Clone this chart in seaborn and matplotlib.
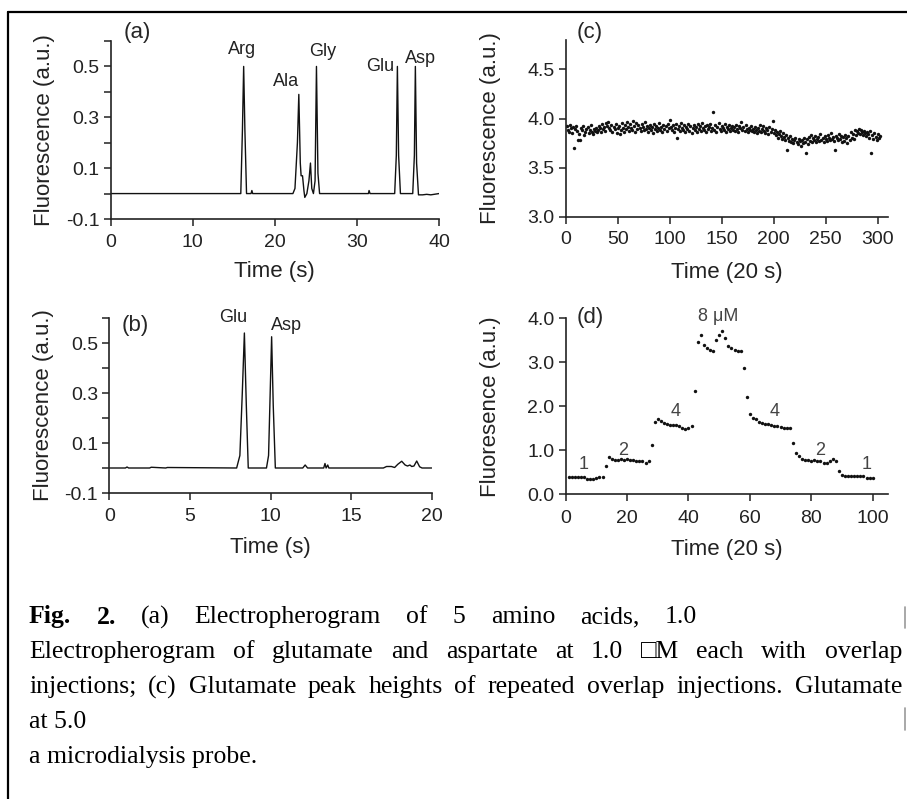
"""
Four-panel figure: electropherograms (a, b) and glutamate peak heights (c, d),
with the figure caption underneath.
"""

import matplotlib.pyplot as plt
import numpy as np
import seaborn as sns
from matplotlib.lines import Line2D

sns.set_theme(style="ticks")
plt.rcParams["font.family"] = ["Liberation Sans", "DejaVu Sans"]
plt.rcParams["axes.unicode_minus"] = False

# --- (a) electropherogram of 5 amino acids: trace vertices
time_a = [0, 15.85, 16.05, 16.2, 16.35, 16.55, 17.1, 17.2, 17.3,
          22.2, 22.45, 22.6, 22.75, 22.92, 23.1, 23.2, 23.37, 23.55, 23.65,
          23.9, 24.15, 24.34, 24.5, 24.7, 24.9, 25.07, 25.25, 25.45,
          31.4, 31.48, 31.6, 34.6, 34.8, 34.93, 35.08, 35.3,
          36.8, 37.0, 37.12, 37.27, 37.5, 38.0, 38.5, 39.0, 40]
fluo_a = [0, 0, 0.25, 0.50, 0.25, 0, 0, 0.012, 0,
          0, 0.02, 0.11, 0.20, 0.39, 0.12, 0.07, 0.07, 0.01, -0.015,
          0.0, 0.05, 0.12, 0.02, 0.0, 0.05, 0.50, 0.08, 0,
          0, 0.012, 0, 0, 0.15, 0.50, 0.15, 0,
          0, 0.15, 0.50, 0.12, -0.005, -0.005, -0.003, -0.005, 0]
peaks_a = ["Arg", "Ala", "Gly", "Glu", "Asp"]
peak_x_a = [16.0, 21.4, 25.8, 32.8, 37.7]
peak_y_a = [0.565, 0.44, 0.56, 0.50, 0.53]

# --- (b) glutamate and aspartate, overlap injection
time_b = [0, 1.0, 1.1, 1.2, 2.5, 2.6, 3.5, 3.6, 7.9, 8.1, 8.25, 8.38,
          8.5, 8.62, 9.75, 9.88, 9.98, 10.07, 10.17, 10.3, 12.0, 12.15,
          12.3, 13.3, 13.38, 13.45, 13.55, 13.62, 13.7, 17.0, 17.2, 17.5,
          17.7, 17.9, 18.14, 18.35, 18.5, 18.65, 18.76, 18.9, 19.07,
          19.25, 19.4, 20]
fluo_b = [0, 0, 0.004, 0, 0, 0.003, 0, 0.002, 0, 0.05, 0.30, 0.54,
          0.25, 0, 0, 0.05, 0.30, 0.525, 0.25, 0, 0, 0.012,
          0, 0, 0.018, 0, 0.012, 0, 0, 0, 0.006, 0.006,
          0.002, 0.015, 0.027, 0.012, 0.008, 0.012, 0.006, 0.008, 0.028,
          0.005, 0, 0]
peaks_b = ["Glu", "Asp"]
peak_x_b = [7.7, 11.0]
peak_y_b = [0.60, 0.57]

# --- (c) glutamate peak heights of repeated overlap injections
height_c = [
    3.92, 3.88, 3.86, 3.93, 3.90, 3.85, 3.91, 3.70, 3.89, 3.92,
    3.87, 3.78, 3.84, 3.78, 3.90, 3.88, 3.92, 3.83, 3.86, 3.89,
    3.91, 3.85, 3.88, 3.93, 3.86, 3.84, 3.89, 3.87, 3.90, 3.86,
    3.88, 3.92, 3.90, 3.86, 3.94, 3.89, 3.91, 3.87, 3.95, 3.92,
    3.96, 3.90, 3.88, 3.93, 3.86, 3.91, 3.89, 3.94, 3.85, 3.90,
    3.92, 3.84, 3.88, 3.95, 3.90, 3.86, 3.93, 3.89, 3.96, 3.91,
    3.87, 3.94, 3.90, 3.88, 3.97, 3.92, 3.86, 3.95, 3.89, 3.93,
    3.90, 3.87, 3.94, 3.91, 3.88, 3.96, 3.89, 3.92, 3.86, 3.90,
    3.93, 3.88, 3.91, 3.85, 3.94, 3.89, 3.92, 3.87, 3.90, 3.95,
    3.88, 3.91, 3.86, 3.93, 3.89, 3.92, 3.87, 3.94, 3.90, 3.98,
    3.91, 3.88, 3.93, 3.86, 3.90, 3.94, 3.80, 3.89, 3.92, 3.87,
    3.95, 3.90, 3.88, 3.93, 3.86, 3.91, 3.89, 3.94, 3.87, 3.92,
    3.85, 3.90, 3.93, 3.88, 3.91, 3.86, 3.94, 3.89, 3.92, 3.87,
    3.95, 3.90, 3.88, 3.92, 3.86, 3.93, 3.89, 3.91, 3.94, 3.87,
    3.90, 4.07, 3.88, 3.93, 3.86, 3.91, 3.95, 3.89, 3.87, 3.92,
    3.90, 3.88, 3.94, 3.86, 3.91, 3.89, 3.93, 3.87, 3.90, 3.92,
    3.88, 3.91, 3.87, 3.93, 3.89, 3.86, 3.92, 3.90, 3.96, 3.88,
    3.91, 3.87, 3.93, 3.89, 3.86, 3.90, 3.88, 3.92, 3.87, 3.89,
    3.86, 3.91, 3.88, 3.85, 3.90, 3.87, 3.93, 3.86, 3.89, 3.92,
    3.87, 3.85, 3.90, 3.88, 3.84, 3.91, 3.86, 3.89, 3.97, 3.85,
    3.88, 3.83, 3.86, 3.80, 3.84, 3.87, 3.82, 3.79, 3.85, 3.81,
    3.78, 3.83, 3.68, 3.80, 3.77, 3.82, 3.76, 3.79, 3.75, 3.78,
    3.80, 3.76, 3.74, 3.79, 3.77, 3.72, 3.78, 3.75, 3.80, 3.76,
    3.65, 3.79, 3.74, 3.81, 3.77, 3.83, 3.76, 3.80, 3.78, 3.82,
    3.76, 3.79, 3.81, 3.77, 3.84, 3.78, 3.80, 3.76, 3.82, 3.79,
    3.77, 3.83, 3.80, 3.78, 3.85, 3.79, 3.81, 3.77, 3.68, 3.82,
    3.80, 3.78, 3.84, 3.79, 3.82, 3.76, 3.81, 3.77, 3.83, 3.80,
    3.75, 3.82, 3.78, 3.86, 3.80, 3.84, 3.79, 3.88, 3.83, 3.87,
    3.85, 3.89, 3.84, 3.88, 3.86, 3.83, 3.87, 3.85, 3.82, 3.86,
    3.84, 3.80, 3.87, 3.65, 3.83, 3.79, 3.85, 3.81, 3.78, 3.84,
    3.80, 3.82,
]
run_c = np.arange(1, len(height_c) + 1)

# --- (d) step changes of glutamate concentration (1-2-4-8-4-2-1 uM)
height_d = [
    0.40, 0.40, 0.40, 0.40, 0.40, 0.40, 0.35, 0.34, 0.34, 0.36,
    0.40, 0.40, 0.64, 0.84, 0.80, 0.79, 0.79, 0.80, 0.78, 0.80,
    0.77, 0.78, 0.76, 0.75, 0.76, 0.70, 0.76, 1.12, 1.64, 1.72,
    1.66, 1.62, 1.60, 1.58, 1.57, 1.58, 1.56, 1.50, 1.48, 1.50,
    1.55, 2.35, 3.46, 3.62, 3.40, 3.32, 3.28, 3.26, 3.50, 3.62,
    3.70, 3.56, 3.36, 3.32, 3.28, 3.26, 3.25, 2.86, 2.20, 1.82,
    1.74, 1.70, 1.64, 1.62, 1.60, 1.59, 1.57, 1.55, 1.56, 1.52,
    1.50, 1.50, 1.50, 1.16, 0.94, 0.86, 0.80, 0.78, 0.77, 0.76,
    0.77, 0.76, 0.75, 0.72, 0.70, 0.76, 0.80, 0.75, 0.54, 0.44,
    0.41, 0.41, 0.41, 0.41, 0.41, 0.41, 0.41, 0.37, 0.36, 0.36,
]
run_d = np.arange(1, len(height_d) + 1)
conc_labels = ["1", "2", "4", "8 \u03bcM", "4", "2", "1"]
conc_x = [5.8, 18.8, 35.9, 49.7, 68.2, 82.8, 98.0]
conc_y = [0.67, 1.00, 1.88, 4.04, 1.88, 1.00, 0.67]

caption = [
    ["Fig.", "2.", "(a)", "Electropherogram", "of", "5", "amino", "acids,", "1.0"],
    ["Electropherogram", "of", "glutamate", "and", "aspartate", "at", "1.0",
     "\u25a1M", "each", "with", "overlap"],
    ["injections;", "(c)", "Glutamate", "peak", "heights", "of", "repeated",
     "overlap", "injections.", "Glutamate"],
    ["at 5.0"],
    ["a microdialysis probe."],
]

W, H = 907, 799
fig = plt.figure(figsize=(W / 100, H / 100), dpi=100)
fig.patch.set_facecolor("white")


def px_axes(left, top, right, bottom):
    return fig.add_axes([left / W, 1 - bottom / H, (right - left) / W, (bottom - top) / H])


def style(ax):
    sns.despine(ax=ax)
    for s in ("left", "bottom"):
        ax.spines[s].set_linewidth(1.2)
        ax.spines[s].set_color("#222222")
    ax.tick_params(which="both", direction="out", length=5, width=1.1,
                   color="#222222", labelcolor="#222222", labelsize=14)
    ax.tick_params(axis="x", pad=6)
    ax.tick_params(axis="y", pad=3)
    ax.set_facecolor("white")


ink = "#111111"
lab = dict(fontsize=16, color="#222222")

# (a)
ax = px_axes(110.7, 41, 439, 219)
sns.lineplot(x=time_a, y=fluo_a, ax=ax, color=ink, lw=1.0, sort=False, estimator=None)
ax.set_xlim(0, 40)
ax.set_ylim(-0.1, 0.6)
ax.set_xticks([0, 10, 20, 30, 40])
ax.set_yticks([-0.1, 0.1, 0.3, 0.5])
ax.set_yticklabels(["-0.1", "0.1", "0.3", "0.5"])
ax.set_yticks([0.0, 0.2, 0.4, 0.6], minor=True)
style(ax)
ax.set_xlabel("Time (s)", **lab)
ax.set_ylabel("Fluorescence (a.u.)", **lab)
ax.xaxis.set_label_coords(0.5, -0.235)
ax.yaxis.set_label_coords(-0.17, 0.5)
for name, x, y in zip(peaks_a, peak_x_a, peak_y_a):
    ax.text(x, y, name, ha="center", va="center", fontsize=13, color="#222222")
ax.text(0.08, 1.045, "(a)", transform=ax.transAxes, ha="center", va="center", fontsize=16)

# (b)
ax = px_axes(109.3, 318, 431.7, 493)
sns.lineplot(x=time_b, y=fluo_b, ax=ax, color=ink, lw=1.0, sort=False, estimator=None)
ax.set_xlim(0, 20)
ax.set_ylim(-0.1, 0.6)
ax.set_xticks([0, 5, 10, 15, 20])
ax.set_yticks([-0.1, 0.1, 0.3, 0.5])
ax.set_yticklabels(["-0.1", "0.1", "0.3", "0.5"])
ax.set_yticks([0.0, 0.2, 0.4, 0.6], minor=True)
style(ax)
ax.set_xlabel("Time (s)", **lab)
ax.set_ylabel("Fluorescence (a.u.)", **lab)
ax.xaxis.set_label_coords(0.5, -0.25)
ax.yaxis.set_label_coords(-0.17, 0.5)
for name, x, y in zip(peaks_b, peak_x_b, peak_y_b):
    ax.text(x, y, name, ha="center", va="center", fontsize=13, color="#222222")
ax.text(0.08, 0.96, "(b)", transform=ax.transAxes, ha="center", va="center", fontsize=16)

# (c)
ax = px_axes(565.7, 40, 888, 216.7)
sns.scatterplot(x=run_c, y=height_c, ax=ax, color=ink, s=6, linewidth=0)
ax.set_xlim(0, 310)
ax.set_ylim(3.0, 4.8)
ax.set_xticks([0, 50, 100, 150, 200, 250, 300])
ax.set_yticks([3.0, 3.5, 4.0, 4.5])
ax.set_yticklabels(["3.0", "3.5", "4.0", "4.5"])
style(ax)
ax.tick_params(axis="x", pad=5)
ax.set_xlabel("Time (20 s)", **lab)
ax.set_ylabel("Fluorescence (a.u.)", **lab)
ax.xaxis.set_label_coords(0.5, -0.255)
ax.yaxis.set_label_coords(-0.2, 0.5)
ax.text(0.075, 1.04, "(c)", transform=ax.transAxes, ha="center", va="center", fontsize=16)

# (d)
ax = px_axes(565.7, 318.3, 888, 494.3)
sns.scatterplot(x=run_d, y=height_d, ax=ax, color=ink, s=6, linewidth=0)
ax.set_xlim(0, 105)
ax.set_ylim(0, 4.0)
ax.set_xticks([0, 20, 40, 60, 80, 100])
ax.set_yticks([0, 1, 2, 3, 4])
ax.set_yticklabels(["0.0", "1.0", "2.0", "3.0", "4.0"])
style(ax)
ax.set_xlabel("Time (20 s)", **lab)
ax.set_ylabel("Fluoresence (a.u.)", **lab)
ax.xaxis.set_label_coords(0.5, -0.255)
ax.yaxis.set_label_coords(-0.2, 0.5)
for name, x, y in zip(conc_labels, conc_x, conc_y):
    ax.text(x, y, name, ha="center", va="center", fontsize=13, color="#444444")
ax.text(0.075, 1.007, "(d)", transform=ax.transAxes, ha="center", va="center", fontsize=16)

# caption, justified like the page it came from
serif = ["Liberation Serif", "DejaVu Serif"]
renderer = fig.canvas.get_renderer()


def caption_line(words, y, x0=29, x1=None):
    texts = []
    for i, w in enumerate(words):
        bold = i < 2 and words[0] == "Fig."
        texts.append(fig.text(x0 / W, 1 - y / H, w, family=serif, fontsize=18.5,
                              fontweight="bold" if bold else "normal",
                              ha="left", va="center", color="black"))
    if x1 is None or len(texts) == 1:
        return
    widths = [t.get_window_extent(renderer).width for t in texts]
    gap = (x1 - x0 - sum(widths)) / (len(texts) - 1)
    x = x0
    for t, w in zip(texts, widths):
        t.set_x(x / W)
        x += w + gap


caption_line(caption[0], 617, x1=697)
caption_line(caption[1], 652, x1=902)
caption_line(caption[2], 687, x1=902)
caption_line(caption[3], 722)
caption_line(caption[4], 757)

# page frame and the cut-off marks at the right margin
fig.add_artist(Line2D([8 / W, 1], [1 - 12 / H] * 2, color="black", lw=1.6))
fig.add_artist(Line2D([8 / W] * 2, [1 - 12 / H, 0], color="black", lw=1.6))
fig.add_artist(Line2D([905 / W] * 2, [1 - 607 / H, 1 - 628 / H], color="#999999", lw=1.2))
fig.add_artist(Line2D([905 / W] * 2, [1 - 708 / H, 1 - 730 / H], color="#999999", lw=1.2))

fig.savefig("out.png", dpi=100, facecolor="white")
